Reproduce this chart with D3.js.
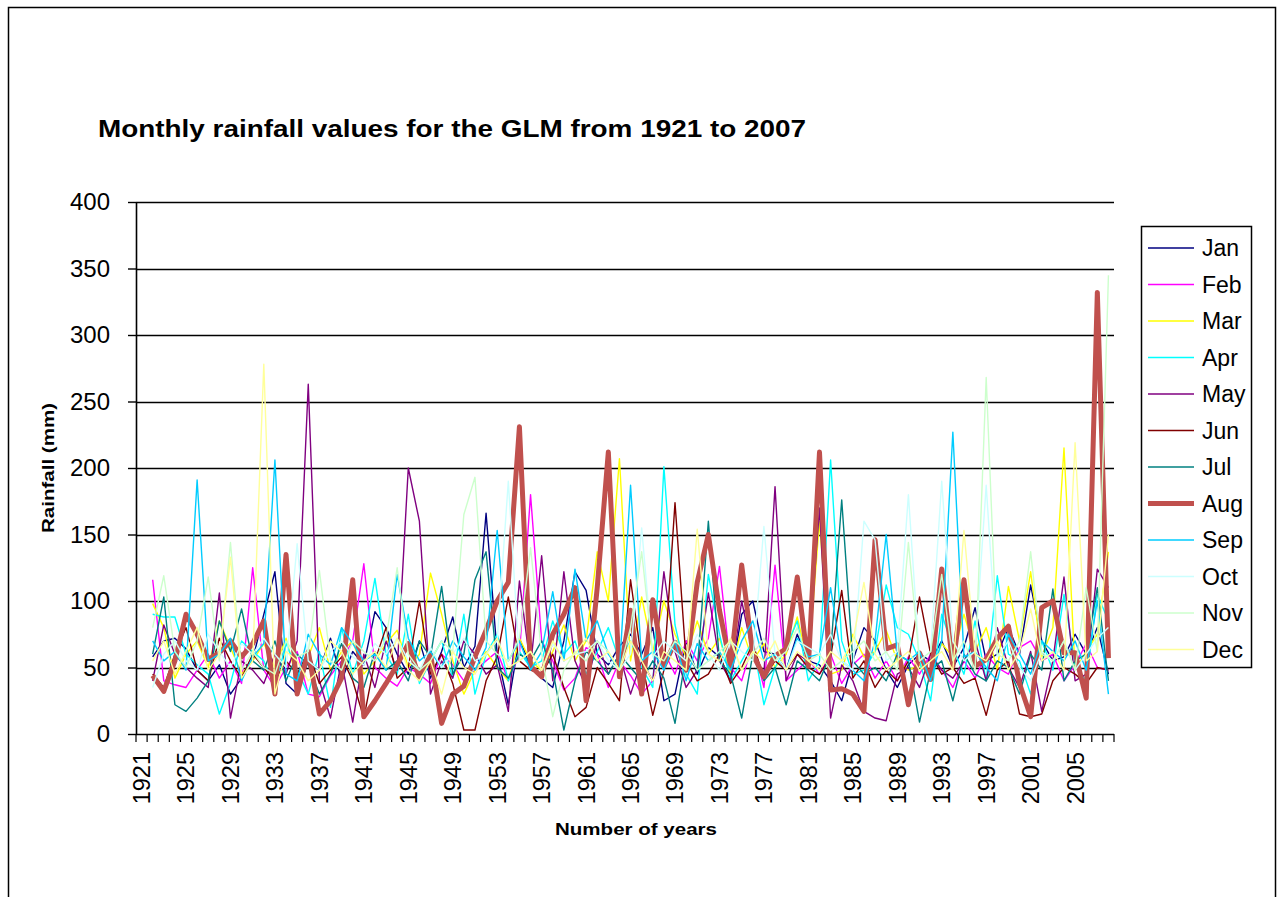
<!DOCTYPE html>
<html><head><meta charset="utf-8">
<script src="https://cdn.jsdelivr.net/npm/d3@7"></script>
<style>
body{margin:0;background:#fff;}
svg{display:block;}
text{font-family:"Liberation Sans",Arial,sans-serif;fill:#000;}
</style>
</head><body>
<svg id="c" width="1279" height="897"></svg>
<script>
// Categories: 1921..2008 (first category has no data, as in the source chart)
const years = d3.range(1921, 2009);
const yTicks = [0, 50, 100, 150, 200, 250, 300, 350, 400];
const months = ["Jan","Feb","Mar","Apr","May","Jun","Jul","Aug","Sep","Oct","Nov","Dec"];

const jan = [null,
 58,70,72,64,48,40,52,30,42,56,
 90,122,38,30,55,48,72,40,62,52,
 92,80,60,45,70,42,62,88,50,66,
 166,60,22,72,50,42,35,70,122,108,
 60,52,66,75,60,80,25,30,70,45,
 65,58,40,90,100,62,60,48,75,55,
 52,40,25,55,80,70,48,35,52,60,
 55,70,50,65,95,55,60,80,60,112,
 70,55,58,75,60,80,45];
const feb = [null,
 116,40,37,35,48,60,42,55,38,125,
 48,35,50,62,30,28,44,55,70,128,
 50,42,36,50,45,38,60,52,40,48,
 55,62,40,60,180,70,55,33,42,65,
 60,35,55,44,30,40,62,45,70,55,
 72,126,50,40,68,35,127,40,48,56,
 45,60,38,52,60,42,55,40,58,45,
 60,48,35,55,42,60,50,45,65,70,
 55,60,40,52,68,50,48];
const mar = [null,
 98,80,42,60,70,50,85,65,45,55,
 68,50,72,40,58,80,48,62,70,45,
 55,68,78,50,60,121,90,55,30,48,
 62,50,40,72,55,48,62,82,55,70,
 137,100,207,55,103,62,100,75,58,85,
 60,72,45,80,55,68,50,60,88,52,
 160,45,48,75,58,62,78,55,48,52,
 45,68,58,90,62,80,48,111,70,122,
 58,80,215,48,62,75,137];
const apr = [null,
 90,88,88,60,52,45,15,38,70,62,
 55,35,68,48,30,62,20,80,45,70,
 117,60,45,90,38,55,70,42,90,30,
 60,75,40,62,50,55,85,60,70,45,
 62,80,55,70,50,35,201,82,45,30,
 120,75,40,55,70,22,50,65,85,40,
 55,206,70,45,48,62,112,80,75,55,
 25,90,65,45,85,40,119,60,55,30,
 70,48,105,52,40,105,85];
const may = [null,
 40,82,60,50,42,35,106,12,55,48,
 38,60,45,70,263,40,12,55,9,60,
 35,70,48,200,160,30,55,42,70,60,
 45,52,17,115,50,134,40,122,55,35,
 70,45,60,30,55,40,122,62,35,48,
 106,55,40,100,60,45,186,40,60,55,
 170,12,52,40,17,12,10,45,50,35,
 60,48,42,55,70,40,80,50,35,62,
 17,55,118,40,45,124,110];
const jun = [null,
 45,35,60,80,48,40,72,55,42,60,
 50,40,55,45,62,38,48,58,40,12,
 55,80,42,50,100,45,60,38,3,3,
 40,58,103,55,48,45,60,35,13,20,
 50,38,25,116,55,14,48,174,55,40,
 45,60,38,50,68,42,55,48,60,50,
 45,58,108,42,55,35,48,40,55,103,
 60,45,50,38,42,14,48,55,15,13,
 15,40,50,45,38,50,48];
const jul = [null,
 60,103,22,17,27,40,85,62,94,55,
 48,70,40,60,52,30,45,68,42,35,
 62,48,55,40,70,58,111,45,60,116,
 137,50,42,60,55,70,48,3,40,62,
 55,45,60,50,40,55,42,8,60,48,
 160,55,45,12,60,40,50,22,55,48,
 40,60,176,55,45,50,40,60,55,9,
 48,55,25,60,45,40,55,50,30,60,
 48,109,40,55,60,110,40];
const aug = [null,
 44,32,55,90,75,56,61,70,58,68,
 85,30,135,30,62,15,25,42,116,13,
 25,38,52,68,42,60,8,30,36,58,
 78,100,114,231,51,43,75,90,110,25,
 110,212,43,93,30,101,51,69,48,114,
 150,93,51,127,60,43,59,64,118,51,
 212,33,34,30,17,146,64,67,22,61,
 41,124,51,116,51,56,72,81,38,13,
 95,100,61,61,27,332,57];
const sep = [null,
 70,55,62,48,191,55,60,72,40,58,
 68,206,45,40,75,60,52,80,68,55,
 60,48,120,72,55,62,50,70,58,48,
 65,153,55,70,48,62,107,55,124,70,
 85,60,48,187,55,62,48,70,40,68,
 55,62,48,70,85,55,60,48,72,58,
 60,110,55,48,40,70,150,60,55,62,
 40,70,227,58,62,50,40,75,60,45,
 70,62,55,70,48,100,30];
const oct = [null,
 35,60,70,55,48,75,62,50,68,60,
 72,60,50,143,55,48,62,70,58,52,
 68,60,72,55,48,65,50,60,72,55,
 60,70,190,55,62,48,68,55,60,62,
 70,55,48,60,155,58,70,62,55,75,
 60,48,70,62,55,156,60,48,70,65,
 60,75,55,48,160,146,55,62,180,55,
 62,190,70,55,62,187,58,70,50,40,
 62,55,70,48,60,72,80];
const nov = [null,
 80,119,62,50,70,118,55,144,48,62,
 50,45,70,58,62,123,55,48,70,62,
 55,72,125,60,48,55,70,62,165,193,
 70,60,55,72,140,60,13,48,62,55,
 70,62,48,80,137,60,55,70,62,48,
 55,62,70,48,60,72,55,62,80,55,
 60,48,55,62,70,55,62,48,144,55,
 62,120,55,70,48,268,60,55,70,137,
 60,55,70,48,110,62,345];
const dec = [null,
 55,70,45,62,80,48,60,133,42,55,
 278,30,62,55,40,48,70,62,45,55,
 62,50,72,48,40,55,30,62,50,45,
 60,72,50,55,62,48,70,55,60,72,
 55,62,48,70,55,40,62,55,48,154,
 60,55,72,48,62,55,70,48,62,55,
 48,62,55,70,114,60,48,55,62,48,
 55,62,48,153,60,55,70,48,62,94,
 55,62,48,219,55,62,150];

const seriesValues = [jan,feb,mar,apr,may,jun,jul,aug,sep,oct,nov,dec];
const colors = ["#000080","#FF00FF","#FFFF00","#00FFFF","#800080","#800000",
                "#008080","#C0504D","#00CCFF","#CCFFFF","#CCFFCC","#FFFF99"];
const widths = [1.4,1.4,1.4,1.4,1.4,1.4,1.4,5,1.4,1.4,1.4,1.4];

const svg = d3.select("#c");
// outer chart border
svg.append("rect").attr("x",8.5).attr("y",7.5).attr("width",1267).attr("height",905)
  .attr("fill","none").attr("stroke","#000").attr("stroke-width",1.5);

const L=136, R=1114, T=202, B=734;
const x = d3.scaleBand().domain(years).range([L,R]);
const y = d3.scaleLinear().domain([0,400]).range([B,T]);
const cx = d => x(d) + x.bandwidth()/2;

function fitText(sel, w){
  const n = sel.node();
  const len = n.getComputedTextLength();
  if (len > 0) sel.attr("textLength", w).attr("lengthAdjust","spacingAndGlyphs");
}
const title = svg.append("text").attr("x",98).attr("y",137)
  .attr("font-size",23.5).attr("font-weight","bold")
  .text("Monthly rainfall values for the GLM from 1921 to 2007");
fitText(title, 708);

// gridlines
svg.append("g").selectAll("line").data(yTicks.filter(d=>d>0)).join("line")
  .attr("x1",L).attr("x2",R).attr("y1",d=>Math.round(y(d))+0.5).attr("y2",d=>Math.round(y(d))+0.5)
  .attr("stroke","#000").attr("stroke-width",1.4);

// y axis
const gy = svg.append("g").attr("transform",`translate(${L},0)`)
  .call(d3.axisLeft(y).tickValues(yTicks).tickSize(8).tickPadding(18).tickSizeOuter(0));
gy.select(".domain").attr("stroke","#000").attr("stroke-width",1.6);
gy.selectAll(".tick line").attr("stroke","#000").attr("stroke-width",1.4);
gy.selectAll(".tick text").attr("font-size",24).attr("font-family",'"Liberation Sans",Arial,sans-serif');

// x axis baseline and ticks at category boundaries
svg.append("line").attr("x1",L).attr("x2",R).attr("y1",B+0.5).attr("y2",B+0.5)
  .attr("stroke","#000").attr("stroke-width",1.6);
svg.append("g").selectAll("line").data(years.map(d=>x(d)).concat([R])).join("line")
  .attr("x1",d=>d).attr("x2",d=>d).attr("y1",B).attr("y2",B+8)
  .attr("stroke","#000").attr("stroke-width",1.2);
// x labels (every 4th category)
const gx = svg.append("g").attr("transform",`translate(0,${B})`)
  .call(d3.axisBottom(x).tickValues(years.filter((d,i)=>i%4===0)).tickSize(0).tickFormat(d3.format("d")));
gx.select(".domain").remove();
gx.selectAll(".tick text").attr("font-size",23.5).attr("font-family",'"Liberation Sans",Arial,sans-serif')
  .attr("transform","rotate(-90)").attr("text-anchor","end")
  .attr("x",-18).attr("y",0).attr("dy","0.36em");

// axis titles
const yt = svg.append("text").attr("transform","translate(54,468) rotate(-90)")
  .attr("text-anchor","middle").attr("font-size",17).attr("font-weight","bold").text("Rainfall (mm)");
fitText(yt, 130);
const xt = svg.append("text").attr("x",636).attr("y",835)
  .attr("text-anchor","middle").attr("font-size",17).attr("font-weight","bold").text("Number of years");
fitText(xt, 162);

// series lines
const line = d3.line().defined(d => d != null).x((d,i)=>cx(years[i])).y(d=>y(d));
svg.append("g").selectAll("path").data(seriesValues).join("path")
  .attr("d", d => line(d))
  .attr("fill","none")
  .attr("stroke",(d,i)=>colors[i])
  .attr("stroke-width",(d,i)=>widths[i])
  .attr("stroke-linejoin","round");

// legend
const lg = svg.append("g");
lg.append("rect").attr("x",1141.5).attr("y",226.5).attr("width",110).attr("height",441)
  .attr("fill","#fff").attr("stroke","#000").attr("stroke-width",1.5);
const row = lg.selectAll("g.item").data(months).join("g").attr("class","item")
  .attr("transform",(d,i)=>`translate(0,${248 + i*36.5})`);
row.append("line").attr("x1",1148).attr("x2",1194).attr("y1",0).attr("y2",0)
  .attr("stroke",(d,i)=>colors[i]).attr("stroke-width",(d,i)=>widths[i]);
row.append("text").attr("x",1202).attr("y",0).attr("dy","0.36em")
  .attr("font-size",23).text(d=>d);
</script>
</body></html>
